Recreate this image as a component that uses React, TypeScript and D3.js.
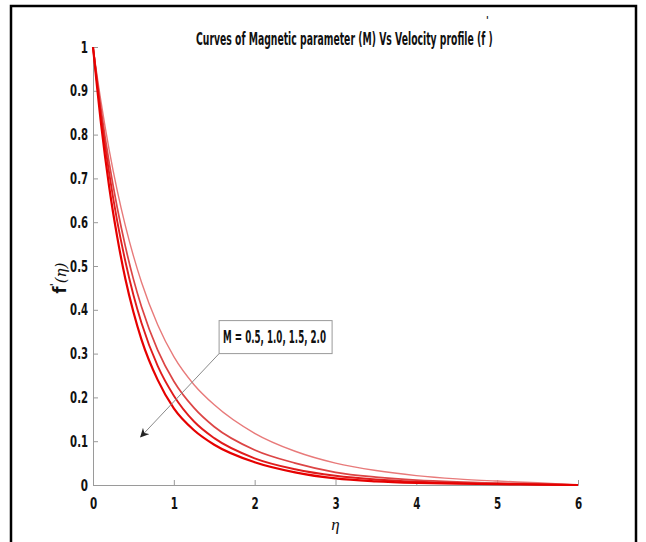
import { useEffect, useRef } from "react";
import * as d3 from "d3";

// eta grid and velocity profiles
const eta = [0, 0.1, 0.2, 0.3, 0.4, 0.5, 0.6, 0.8, 1.0, 1.25, 1.5, 2, 2.5, 3, 3.5, 4, 4.5, 5, 5.5, 6];
const fM05 = [1, 0.874, 0.765, 0.672, 0.592, 0.523, 0.463, 0.366, 0.293, 0.229, 0.183, 0.118, 0.077, 0.05, 0.033, 0.0215, 0.014, 0.009, 0.005, 0];
const fM10 = [1, 0.857, 0.736, 0.633, 0.545, 0.47, 0.407, 0.308, 0.237, 0.176, 0.133, 0.08, 0.05, 0.029, 0.018, 0.011, 0.007, 0.0045, 0.0025, 0];
const fM15 = [1, 0.843, 0.712, 0.602, 0.511, 0.434, 0.37, 0.272, 0.204, 0.145, 0.107, 0.061, 0.036, 0.021, 0.0125, 0.0075, 0.0045, 0.0027, 0.0015, 0];
const fM20 = [1, 0.824, 0.681, 0.566, 0.471, 0.395, 0.332, 0.24, 0.175, 0.125, 0.092, 0.052, 0.029, 0.015, 0.0085, 0.005, 0.003, 0.0018, 0.001, 0];

const seriesList = [
  { name: "M=0.5", values: fM05, color: "#e87a7a", width: 1.4 },
  { name: "M=1.0", values: fM10, color: "#dc4545", width: 1.7 },
  { name: "M=1.5", values: fM15, color: "#e01c1c", width: 1.9 },
  { name: "M=2.0", values: fM20, color: "#e60000", width: 2.2 },
];

const xTicks = [0, 1, 2, 3, 4, 5, 6];
const yTicks = [0, 0.1, 0.2, 0.3, 0.4, 0.5, 0.6, 0.7, 0.8, 0.9, 1];
const titleText = "Curves of Magnetic parameter (M) Vs Velocity profile (f )";
const annotationText = "M = 0.5, 1.0, 1.5, 2.0";
// arrow: from box corner to tip, in data units
const arrowFrom = [1.56, 0.3];
const arrowTo = [0.59, 0.11];

const W = 646, H = 542;
const FONT = "'DejaVu Sans Condensed', 'Liberation Sans', Arial, sans-serif";

// narrow look of the original labels
const labelWidth = (s: string) => s.split("").reduce((w, c) => w + (c === "." ? 3.5 : 7.2), 0);

// squeeze a text horizontally to a given width, keeping its left edge
function fitWidth(sel, left, baseline, width) {
  const len = sel.node().getComputedTextLength();
  sel.attr("x", 0).attr("y", 0)
    .attr("transform", `translate(${left},${baseline}) scale(${width / len},1)`);
}

export default function App() {
  const ref = useRef(null);

  useEffect(() => {
    const svg = d3.select(ref.current);
    svg.selectAll("*").remove();

    const x = d3.scaleLinear().domain([0, 6]).range([93, 578]);
    const y = d3.scaleLinear().domain([0, 1]).range([485, 47]);

    // outer frame
    svg.append("rect")
      .attr("x", 11).attr("y", 6)
      .attr("width", 625).attr("height", 560)
      .attr("fill", "white").attr("stroke", "black").attr("stroke-width", 2.5);

    const defs = svg.append("defs");
    defs.append("marker")
      .attr("id", "arrowhead")
      .attr("viewBox", "0 0 10 10")
      .attr("refX", 9).attr("refY", 5)
      .attr("markerWidth", 9).attr("markerHeight", 9)
      .attr("markerUnits", "userSpaceOnUse")
      .attr("orient", "auto")
      .append("path").attr("d", "M0,0 L10,5 L0,10 L3,5 z").attr("fill", "#222");

    // axes
    const xAxis = d3.axisBottom(x).tickValues(xTicks).tickSize(-5).tickPadding(10).tickFormat(d3.format("d"));
    const yAxis = d3.axisLeft(y).tickValues(yTicks).tickSize(-5).tickPadding(5).tickFormat(d => (d === 0 || d === 1 ? String(d) : d3.format(".1f")(d)));

    const gx = svg.append("g").attr("transform", `translate(0,${y(0)})`).call(xAxis);
    const gy = svg.append("g").attr("transform", `translate(${x(0)},0)`).call(yAxis);
    [gx, gy].forEach(g => {
      g.select(".domain").attr("stroke", "#9a9a9a");
      g.selectAll(".tick line").attr("stroke", "#9a9a9a");
      g.selectAll(".tick text")
        .attr("fill", "#111")
        .style("font-family", FONT)
        .style("font-weight", "bold")
        .style("font-size", "16px")
        .attr("textLength", function () { return labelWidth(d3.select(this).text()); })
        .attr("lengthAdjust", "spacingAndGlyphs");
    });
    gx.selectAll(".tick text").attr("dy", "0.9em");

    // curves
    const line = d3.line()
      .x((d, i) => x(eta[i]))
      .y(d => y(d))
      .curve(d3.curveMonotoneX);

    svg.append("g").selectAll("path")
      .data(seriesList)
      .join("path")
      .attr("d", d => line(d.values))
      .attr("fill", "none")
      .attr("stroke", d => d.color)
      .attr("stroke-width", d => d.width);

    // annotation
    svg.append("line")
      .attr("x1", x(arrowFrom[0])).attr("y1", y(arrowFrom[1]))
      .attr("x2", x(arrowTo[0])).attr("y2", y(arrowTo[1]))
      .attr("stroke", "#8a8a8a").attr("stroke-width", 1)
      .attr("marker-end", "url(#arrowhead)");

    const bx = x(arrowFrom[0]);
    const by = y(arrowFrom[1]);
    svg.append("rect")
      .attr("x", bx).attr("y", by - 33)
      .attr("width", 113).attr("height", 33)
      .attr("fill", "white").attr("stroke", "#9a9a9a");
    const ann = svg.append("text")
      .style("font-family", FONT).style("font-weight", "bold").style("font-size", "17px")
      .attr("fill", "#111")
      .text(annotationText);
    fitWidth(ann, bx + 4, by - 11, 103);

    // title, with the prime of f' set above the line
    const title = svg.append("text")
      .style("font-family", FONT).style("font-weight", "bold").style("font-size", "18px")
      .attr("fill", "#111")
      .text(titleText);
    fitWidth(title, 196, 45, 297);
    svg.append("text")
      .attr("x", 486).attr("y", 24)
      .style("font-family", FONT).style("font-weight", "bold").style("font-size", "10px")
      .attr("fill", "#111")
      .text("'");

    // y label
    const yl = svg.append("text")
      .attr("transform", `translate(66,278) rotate(-90)`)
      .attr("text-anchor", "middle")
      .attr("fill", "#111");
    yl.append("tspan").style("font-family", FONT).style("font-weight", "bold").style("font-size", "18px").text("f");
    yl.append("tspan").attr("dy", -8).style("font-family", FONT).style("font-weight", "bold").style("font-size", "11px").text("'");
    yl.append("tspan").attr("dy", 8).style("font-family", "'DejaVu Serif', serif").style("font-style", "italic").style("font-size", "15px").text("(η)");

    // x label
    svg.append("text")
      .attr("x", x(3)).attr("y", 530)
      .attr("text-anchor", "middle")
      .style("font-family", "'Liberation Serif', serif").style("font-style", "italic").style("font-size", "17px")
      .attr("fill", "#111")
      .text("η");
  }, []);

  return <svg ref={ref} width={W} height={H} style={{ position: "absolute", left: 0, top: 0 }}></svg>;
}
